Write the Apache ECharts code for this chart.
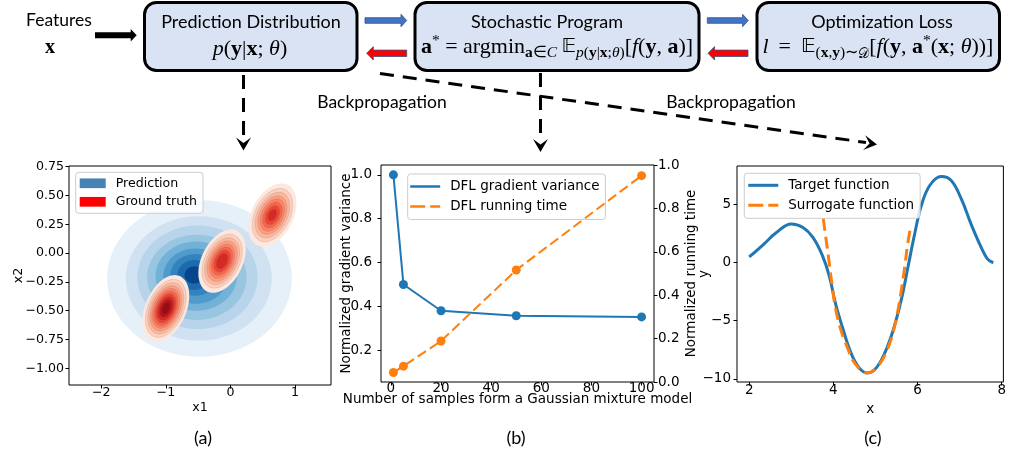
<!DOCTYPE html>
<html><head><meta charset="utf-8">
<script src="https://cdn.jsdelivr.net/npm/echarts@6/dist/echarts.min.js"></script>
<style>html,body{margin:0;padding:0;background:#fff}#c{width:1009px;height:450px}</style>
</head><body><div id="c"></div>
<script>
// ================= DATA =================
// ---- panel (a): contour plot ----
const aXTicks = [-2, -1, 0, 1];
const aYTicks = [-1.0, -0.75, -0.5, -0.25, 0.0, 0.25, 0.5, 0.75];
// prediction density filled contours: [centre x1, centre x2, half-width, half-height, level]
const predictionRings = [
  [-0.48, -0.22, 1.43, 0.68, 0],
  [-0.49, -0.22, 1.13, 0.54, 1],
  [-0.51, -0.21, 0.93, 0.45, 2],
  [-0.52, -0.21, 0.77, 0.37, 3],
  [-0.53, -0.20, 0.63, 0.30, 4],
  [-0.54, -0.20, 0.50, 0.24, 5],
  [-0.55, -0.19, 0.38, 0.18, 6],
  [-0.56, -0.19, 0.26, 0.13, 7],
  [-0.56, -0.19, 0.15, 0.075, 8]
];
// ground-truth Gaussian components: [mean x1, mean x2, sd x1, sd x2, correlation] (outermost contour)
const truthComponents = [
  [-1.00, -0.48, 0.362, 0.289, 0.38],
  [-0.13, -0.07, 0.367, 0.275, 0.38],
  [0.65, 0.33, 0.372, 0.275, 0.38]
];
// relative radius of every filled contour level of each component
const truthLevels = [
  [1.00, 0.87, 0.77, 0.68, 0.60, 0.52, 0.44, 0.36, 0.27, 0.17],
  [1.00, 0.85, 0.74, 0.64, 0.54, 0.45, 0.35, 0.24],
  [1.00, 0.84, 0.72, 0.61, 0.51, 0.41, 0.30, 0.18]
];
// ---- panel (b) ----
const bSamples = [1, 5, 20, 50, 100];
const bVariance = [1.0, 0.5, 0.38, 0.357, 0.352];
const bRunTime = [0.044, 0.073, 0.189, 0.516, 0.951];
const bXTicks = [0, 20, 40, 60, 80, 100];
const bYTicks = [0.2, 0.4, 0.6, 0.8, 1.0];
const bY2Ticks = [0.0, 0.2, 0.4, 0.6, 0.8, 1.0];
// ---- panel (c) ----
const cTargetX = [2.0, 2.33, 2.64, 3.0, 3.27, 3.51, 3.74, 3.90, 4.05, 4.21, 4.41, 4.60, 4.80, 5.0, 5.23, 5.43, 5.62, 5.78, 5.94, 6.09, 6.29, 6.56, 6.80, 7.04, 7.27, 7.51, 7.66, 7.8];
const cTargetY = [0.5, 1.55, 2.58, 3.35, 3.06, 2.2, 0.62, -1.1, -3.5, -5.5, -7.7, -9.0, -9.5, -9.15, -7.7, -5.7, -3.1, -0.24, 2.63, 4.93, 6.66, 7.43, 7.09, 5.5, 3.35, 1.34, 0.34, 0.0];
const cSurrX = [3.76, 3.82, 3.90, 3.98, 4.05, 4.17, 4.33, 4.52, 4.80, 5.07, 5.27, 5.43, 5.54, 5.62, 5.70, 5.76, 5.84];
const cSurrY = [3.78, 2.2, 0.04, -2.25, -3.9, -5.7, -7.28, -8.72, -9.49, -8.86, -7.57, -5.84, -3.98, -2.25, -0.24, 1.48, 3.2];
const cXTicks = [2, 4, 6, 8];
const cYTicks = [-10, -5, 0, 5];

// ================= STYLE =================
const BLUES = ['#e6f0f9', '#d0e2f2', '#b7d4ea', '#98c6e0', '#72b2d8', '#4f9bcb', '#3383be', '#1c6baf', '#08468b'];
const REDS = ['#fee7dc', '#fdd0bc', '#fcb89c', '#fc9e80', '#fb8463', '#f6664a', '#ea4633', '#d42a24', '#b71319', '#980c13'];
const C0 = '#1f77b4', C1 = '#ff7f0e';
const MPL = 'DejaVu Sans';
const minus = s => String(s).replace('-', '\u2212');

const zip = (a, b) => a.map((v, i) => [v, b[i]]);
const truthRings = [];
truthComponents.forEach((c, ci) => truthLevels[ci].forEach((r, k) =>
  truthRings.push([c[0], c[1], c[2] * r, c[3] * r, c[4], k])));

function ellipseItem(palette, stroke) {
  return function (params, api) {
    const cx = api.value(0), cy = api.value(1), sx = api.value(2), sy = api.value(3);
    const rho = api.value(4), lv = api.value(5);
    const s = Math.sqrt(1 - rho * rho);
    const pts = [];
    for (let j = 0; j < 90; j++) {
      const t = 2 * Math.PI * j / 90;
      pts.push(api.coord([cx + sx * Math.cos(t), cy + sy * (rho * Math.cos(t) + s * Math.sin(t))]));
    }
    return {
      type: 'polygon', z2: lv, shape: { points: pts },
      style: { fill: palette[lv], stroke: (stroke && lv > 0) ? stroke : null, lineWidth: 0.5 }
    };
  };
}

function axisCommon(ticks, fmt, fs, margin, extra) {
  return Object.assign({
    type: 'value',
    axisLine: { show: false, onZero: false },
    axisTick: { show: true, length: 3.5, customValues: ticks, lineStyle: { color: '#000', width: 1 } },
    axisLabel: { customValues: ticks, formatter: fmt, fontSize: fs, fontFamily: MPL, color: '#000', margin: margin },
    splitLine: { show: false },
    nameLocation: 'middle',
    nameMoveOverlap: false,
    nameTextStyle: { fontSize: fs, fontFamily: MPL, color: '#000' }
  }, extra);
}

// ---- diagram helpers (layout only) ----
function blockArrow(x0, x1, yc, sh, hh, hl, dir) {
  let p;
  if (dir > 0) p = [[x0, yc - sh], [x1 - hl, yc - sh], [x1 - hl, yc - hh], [x1, yc], [x1 - hl, yc + hh], [x1 - hl, yc + sh], [x0, yc + sh]];
  else p = [[x1, yc - sh], [x0 + hl, yc - sh], [x0 + hl, yc - hh], [x0, yc], [x0 + hl, yc + hh], [x0 + hl, yc + sh], [x1, yc + sh]];
  return p;
}
function chevron(tx, ty, ang, len, hw, notch) {
  const dx = Math.cos(ang), dy = Math.sin(ang), nx = -dy, ny = dx;
  return [[tx, ty], [tx - len * dx + hw * nx, ty - len * dy + hw * ny], [tx - notch * dx, ty - notch * dy], [tx - len * dx - hw * nx, ty - len * dy - hw * ny]];
}
const BOXF = '#dae3f3';
const SANS = 'Lato';
const SERIF = 'Liberation Serif';
const T = '\u2009';
const mathRich = {
  r: { fontFamily: SERIF, fontSize: 22, lineHeight: 28 },
  i: { fontFamily: SERIF, fontSize: 22, fontStyle: 'italic', lineHeight: 28 },
  b: { fontFamily: SERIF, fontSize: 22, fontWeight: 'bold', lineHeight: 28 },
  bb: { fontFamily: 'DejaVu Sans', fontSize: 20, lineHeight: 28 },
  rs: { fontFamily: SERIF, fontSize: 15.5, lineHeight: 17, verticalAlign: 'bottom' },
  is: { fontFamily: SERIF, fontSize: 15.5, fontStyle: 'italic', lineHeight: 17, verticalAlign: 'bottom' },
  bs: { fontFamily: SERIF, fontSize: 15.5, fontWeight: 'bold', lineHeight: 17, verticalAlign: 'bottom' },
  cs: { fontFamily: 'DejaVu Sans', fontSize: 14, lineHeight: 17, verticalAlign: 'bottom' },
  sup: { fontFamily: SERIF, fontSize: 15.5, lineHeight: 16, verticalAlign: 'top' }
};
function txt(x, y, text, size, extra) {
  return { type: 'text', x: x, y: y, silent: true, style: Object.assign({ text: text, fill: '#000', font: size + 'px ' + SANS, align: 'center', verticalAlign: 'middle' }, extra || {}) };
}
function mtxt(x, y, text) {
  return { type: 'text', x: x, y: y, silent: true, style: { text: text, fill: '#000', align: 'center', verticalAlign: 'middle', rich: mathRich } };
}
function poly(points, fill, stroke, lw) {
  return { type: 'polygon', silent: true, shape: { points: points }, style: { fill: fill, stroke: stroke || null, lineWidth: lw || 0 } };
}
function dline(x1, y1, x2, y2) {
  return { type: 'line', silent: true, shape: { x1: x1, y1: y1, x2: x2, y2: y2 }, style: { stroke: '#000', lineWidth: 3, lineDash: [14, 9] } };
}
const diagAng = Math.atan2(144 - 74, 876 - 383);
const graphics = [
  { type: 'rect', shape: { x: 144.5, y: 2.5, width: 212.5, height: 68, r: 12 }, style: { fill: BOXF, stroke: '#000', lineWidth: 3 } },
  { type: 'rect', shape: { x: 415, y: 2.5, width: 284, height: 68, r: 12 }, style: { fill: BOXF, stroke: '#000', lineWidth: 3 } },
  { type: 'rect', shape: { x: 757, y: 2.5, width: 242.5, height: 68, r: 12 }, style: { fill: BOXF, stroke: '#000', lineWidth: 3 } },
  txt(59, 20, 'Features', 17.5),
  { type: 'text', x: 50, y: 48, style: { text: 'x', fill: '#000', font: 'bold 20px ' + SERIF, align: 'center', verticalAlign: 'middle' } },
  poly(blockArrow(95, 136.7, 35.3, 3, 6.3, 6, 1), '#000'),
  txt(251, 22, 'Prediction Distribution', 18),
  mtxt(250, 49, '{i|p}{r|(}{b|y}{r||}{b|x}{r|; }{i|θ}{r|)}'),
  txt(547, 22, 'Stochastic Program', 18),
  mtxt(557, 47, '{b|a}{sup|*}{r| = argmin}{bs|a}{rs|∈}{is|C}{r|' + T + '}{bb|𝔼}{is|p}{rs|(}{bs|y}{rs||}{bs|x}{rs|;}{is|θ}{rs|)}{r|[}{i|f}{r|(}{b|y}{r|, }{b|a}{r|)]}'),
  txt(882, 22, 'Optimization Loss', 18),
  mtxt(878, 47, '{i|l}{r| ' + T + '=' + T + ' }{bb|𝔼}{rs|(}{bs|x}{rs|,}{bs|y}{rs|)∼}{cs|𝒟}{r|[}{i|f}{r|(}{b|y}{r|, }{b|a}{sup|*}{r|(}{b|x}{r|; }{i|θ}{r|))]}'),
  poly(blockArrow(365, 406.7, 20.5, 2.8, 6.2, 5.7, 1), '#4472c4', '#2f528f', 0.8),
  poly(blockArrow(366.7, 406.7, 53.3, 3.2, 6.7, 6.6, -1), '#ff0000', '#2f528f', 0.8),
  poly(blockArrow(707.3, 748.3, 20.5, 2.8, 6.2, 5.7, 1), '#4472c4', '#2f528f', 0.8),
  poly(blockArrow(708, 748, 53.3, 3.2, 6.7, 6.6, -1), '#ff0000', '#2f528f', 0.8),
  dline(243.5, 75, 243.5, 140),
  poly(chevron(243.5, 150.5, Math.PI / 2, 13, 7.5, 7.5), '#000'),
  dline(540.5, 73, 540.5, 141),
  poly(chevron(540.5, 152, Math.PI / 2, 13, 7.5, 7.5), '#000'),
  dline(380, 73.5, 866, 142.5),
  poly(chevron(877, 144.5, diagAng, 13, 7.5, 7.5), '#000'),
  txt(382, 102, 'Backpropagation', 17.5),
  txt(731, 102, 'Backpropagation', 17.5),
  txt(203, 438, '(a)', 18),
  txt(516, 438, '(b)', 18),
  txt(873, 438, '(c)', 18)
];

const legendBox = { orient: 'vertical', borderColor: '#cccccc', borderWidth: 1, borderRadius: 3, backgroundColor: 'rgba(255,255,255,0.8)', symbolKeepAspect: false, itemStyle: { borderWidth: 0 }, formatter: '{g| }{name}', inactiveColor: '#ccc' };
const dashIcon = 'path://M0,0H15V3H0Z M20,0H30V3H20Z';

const option = {
  animation: false,
  backgroundColor: '#fff',
  grid: [
    { left: 69, top: 166, width: 262, height: 219, show: true, borderColor: '#000', borderWidth: 1, backgroundColor: 'transparent' },
    { left: 381, top: 165, width: 273, height: 217, show: true, borderColor: '#000', borderWidth: 1, backgroundColor: 'transparent' },
    { left: 737, top: 166, width: 270, height: 216, show: true, borderColor: '#000', borderWidth: 1, backgroundColor: 'transparent' }
  ],
  xAxis: [
    axisCommon(aXTicks, v => minus(v), 12.6, 1.5, { gridIndex: 0, min: -2.50, max: 1.557, name: 'x1', nameGap: 16 }),
    axisCommon(bXTicks, v => String(v), 13.5, -0.5, { gridIndex: 1, min: -3.95, max: 104.95, name: 'Number of samples form a Gaussian mixture model', nameGap: 10.5 }),
    axisCommon(cXTicks, v => minus(v), 13.5, 1.7, { gridIndex: 2, min: 1.71, max: 8.04, name: 'x', nameGap: 20 })
  ],
  yAxis: [
    axisCommon(aYTicks, v => minus(v.toFixed(2)), 12.6, 5, { gridIndex: 0, min: -1.145, max: 0.756, name: 'x2', nameGap: 44 }),
    axisCommon(bYTicks, v => v.toFixed(1), 13.5, 9, { gridIndex: 1, min: 0.055, max: 1.045, name: 'Normalized gradient variance', nameGap: 28 }),
    axisCommon(bY2Ticks, v => v.toFixed(1), 13.5, 4, { gridIndex: 1, position: 'right', min: 0, max: 1, name: 'Normalized running time', nameGap: 30 }),
    axisCommon(cYTicks, v => minus(v), 13.5, 6, { gridIndex: 2, min: -10.28, max: 8.34, name: 'y', nameGap: 26 })
  ],
  legend: [
    Object.assign({}, legendBox, {
      left: 75.7, top: 172.3, itemWidth: 26, itemHeight: 9.7, itemGap: 3.5, padding: [3.5, 6, 4, 4],
      textStyle: { fontSize: 12.6, fontFamily: MPL, color: '#000', lineHeight: 15, rich: { g: { width: 5 } } },
      data: [{ name: 'Prediction', icon: 'rect', itemStyle: { color: '#4682b4' } }, { name: 'Ground truth', icon: 'rect', itemStyle: { color: '#ff0000' } }]
    }),
    Object.assign({}, legendBox, {
      left: 407.7, top: 174, itemWidth: 30, itemHeight: 2.5, itemGap: 4, padding: [4.5, 6, 5, 2.5],
      textStyle: { fontSize: 13.5, fontFamily: MPL, color: '#000', lineHeight: 16, rich: { g: { width: 5 } } },
      data: [{ name: 'DFL gradient variance', icon: 'rect' }, { name: 'DFL running time', icon: dashIcon }]
    }),
    Object.assign({}, legendBox, {
      left: 744.3, top: 173.3, itemWidth: 30, itemHeight: 3, itemGap: 4, padding: [4, 6, 5, 4],
      textStyle: { fontSize: 13.5, fontFamily: MPL, color: '#000', lineHeight: 16, rich: { g: { width: 5 } } },
      data: [{ name: 'Target function', icon: 'rect' }, { name: 'Surrogate function', icon: dashIcon }]
    })
  ],
  series: [
    { type: 'custom', name: 'Prediction', xAxisIndex: 0, yAxisIndex: 0, z: 2, itemStyle: { color: '#4682b4' },
      data: predictionRings.map(r => [r[0], r[1], r[2], r[3], 0, r[4]]), renderItem: ellipseItem(BLUES, null) },
    { type: 'custom', name: 'Ground truth', xAxisIndex: 0, yAxisIndex: 0, z: 3, itemStyle: { color: '#ff0000' },
      data: truthRings, renderItem: ellipseItem(REDS, 'rgba(110,90,130,0.35)') },
    { type: 'line', name: 'DFL gradient variance', xAxisIndex: 1, yAxisIndex: 1, data: zip(bSamples, bVariance),
      symbol: 'circle', symbolSize: 9, lineStyle: { color: C0, width: 2 }, itemStyle: { color: C0 }, z: 3 },
    { type: 'line', name: 'DFL running time', xAxisIndex: 1, yAxisIndex: 2, data: zip(bSamples, bRunTime),
      symbol: 'circle', symbolSize: 9, lineStyle: { color: C1, width: 2, type: [10, 4.5] }, itemStyle: { color: C1 }, z: 4 },
    { type: 'line', name: 'Target function', xAxisIndex: 2, yAxisIndex: 3, data: zip(cTargetX, cTargetY),
      symbol: 'none', smooth: 0.4, lineStyle: { color: C0, width: 3 }, itemStyle: { color: C0 }, z: 3 },
    { type: 'line', name: 'Surrogate function', xAxisIndex: 2, yAxisIndex: 3, data: zip(cSurrX, cSurrY),
      symbol: 'none', smooth: 0.4, lineStyle: { color: C1, width: 3, type: [12, 6] }, itemStyle: { color: C1 }, z: 4 }
  ],
  graphic: { elements: graphics }
};
const chart = echarts.init(document.getElementById('c'), null, { renderer: 'canvas' });
chart.setOption(option);
</script></body></html>
